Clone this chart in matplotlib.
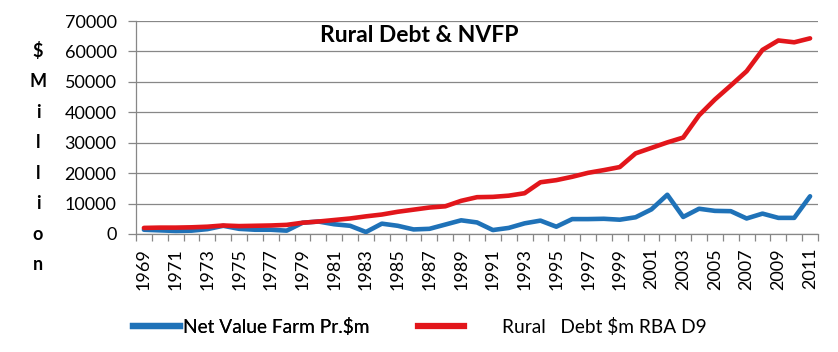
import matplotlib
matplotlib.use("Agg")
import matplotlib.pyplot as plt
import matplotlib.transforms as mtransforms
from matplotlib.lines import Line2D
import numpy as np

plt.rcParams['font.family'] = ['Lato', 'DejaVu Sans']

years = list(range(1969, 2012))
net_value = [1400, 1200, 1000, 1100, 1600, 2700, 1700, 1400, 1400, 1100,
             3700, 4100, 3200, 2700, 650, 3400, 2700, 1500, 1700, 3100,
             4500, 3800, 1300, 2000, 3500, 4400, 2400, 4900, 4900, 5000,
             4700, 5500, 8100, 12900, 5600, 8300, 7600, 7500, 5100, 6700,
             5300, 5300, 12400]
rural_debt = [2000, 2100, 2100, 2200, 2400, 2800, 2600, 2700, 2800, 3000,
              3700, 4100, 4600, 5100, 5800, 6400, 7300, 8000, 8700, 9100,
              10900, 12100, 12200, 12600, 13400, 17000, 17700, 18800, 20100, 21000,
              22000, 26500, 28300, 30100, 31700, 39000, 44200, 48800, 53500, 60500,
              63600, 63000, 64300]
y_ticks = [0, 10000, 20000, 30000, 40000, 50000, 60000, 70000]
ylabel_letters = ['$', 'M', 'i', 'l', 'l', 'i', 'o', 'n']
ylabel_levels = [60000, 50000, 40000, 30000, 20000, 10000, 0, -10000]
title = "Rural Debt & NVFP"
label_net = "Net Value Farm Pr.$m"
label_debt = "Rural   Debt $m RBA D9"

BLUE = '#1F72B8'
RED = '#E2161B'
GRID = '#878787'

W, H = 838, 352
fig = plt.figure(figsize=(W / 100, H / 100), dpi=100)
ax = fig.add_axes([136 / W, 1 - 234 / H, 682 / W, 213 / H])

x = np.arange(len(years))
l1, = ax.plot(x, net_value, color=BLUE, lw=3.3, solid_capstyle='round', solid_joinstyle='round', zorder=3)
l2, = ax.plot(x, rural_debt, color=RED, lw=3.3, solid_capstyle='round', solid_joinstyle='round', zorder=4)

ax.set_xlim(-0.5, len(years) - 0.5)
ax.set_ylim(0, 70000)
ax.set_yticks(y_ticks)
ax.set_yticklabels([str(v) for v in y_ticks], fontsize=13)
ax.yaxis.grid(True, color=GRID, lw=0.9)
ax.set_axisbelow(True)
ax.tick_params(axis='y', length=6, width=0.9, color=GRID, pad=8, labelcolor='black')

ax.set_xticks(x[::2])
ax.set_xticklabels([str(y) for y in years[::2]], rotation=90, fontsize=13)
ax.set_xticks(np.arange(-0.5, len(years)), minor=True)
ax.tick_params(axis='x', which='major', length=0, pad=10)
ax.tick_params(axis='x', which='minor', length=5, width=0.9, color=GRID)

for s in ['top', 'right']:
    ax.spines[s].set_visible(False)
for s in ['left', 'bottom']:
    ax.spines[s].set_color(GRID)
    ax.spines[s].set_linewidth(0.9)

trans = mtransforms.blended_transform_factory(ax.transAxes, ax.transData)
xl = (38 - 136) / 682
for ch, lv in zip(ylabel_letters, ylabel_levels):
    ax.text(xl, lv, ch, transform=trans, ha='center', va='center',
            fontsize=13, fontweight='bold', clip_on=False)

fig.text(419 / W, 1 - 35 / H, title, ha='center', va='center',
         fontsize=16.5, fontweight='bold')

lfs = 13.8
fs_px = lfs * 100 / 72
leg1 = fig.legend([Line2D([], [], color=BLUE, lw=4.5)], [label_net],
                  loc='center left', bbox_to_anchor=(133 / W, 1 - 327 / H),
                  frameon=False, fontsize=lfs, borderpad=0, borderaxespad=0,
                  handlelength=47 / fs_px, handletextpad=3 / fs_px)
leg2 = fig.legend([Line2D([], [], color=RED, lw=4.5)], [label_debt],
                  loc='center left', bbox_to_anchor=(418 / W, 1 - 327 / H),
                  frameon=False, fontsize=lfs, borderpad=0, borderaxespad=0,
                  handlelength=46 / fs_px, handletextpad=38 / fs_px)
fig.add_artist(leg1)

fig.savefig('out.png', dpi=100)
